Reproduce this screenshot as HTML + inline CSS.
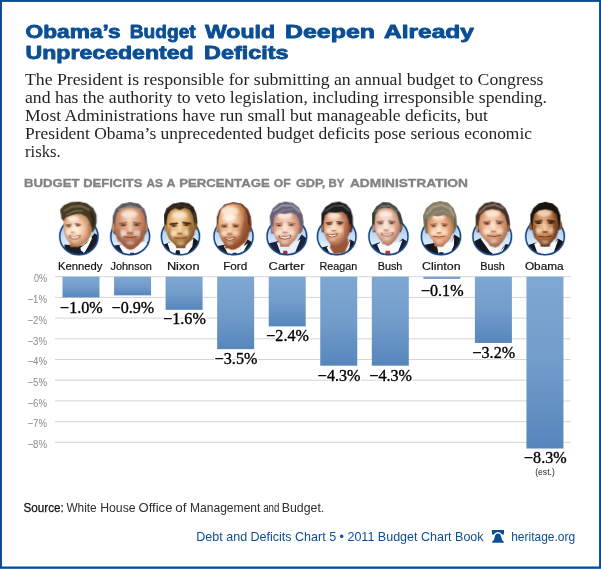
<!DOCTYPE html>
<html><head><meta charset="utf-8"><title>Obama's Budget Would Deepen Already Unprecedented Deficits</title>
<style>html,body{margin:0;padding:0;background:#fff;}body{width:601px;height:569px;overflow:hidden;}svg{display:block;will-change:transform;}.sans{font-family:"Liberation Sans",sans-serif;}.serif{font-family:"Liberation Serif",serif;}</style></head><body>
<svg width="601" height="569" viewBox="0 0 601 569">
<defs>
<linearGradient id="bar" x1="0" y1="0" x2="0" y2="1"><stop offset="0" stop-color="#7fa7d3"/><stop offset="0.5" stop-color="#729cca"/><stop offset="1" stop-color="#5686bc"/></linearGradient>
<linearGradient id="oval" x1="0" y1="0" x2="0" y2="1"><stop offset="0" stop-color="#93bfec"/><stop offset="0.55" stop-color="#c9e0f6"/><stop offset="1" stop-color="#ffffff"/></linearGradient>
<filter id="pb" x="-10%" y="-10%" width="120%" height="120%"><feGaussianBlur stdDeviation="4"/></filter>
<filter id="pb3" x="-30%" y="-30%" width="160%" height="160%"><feGaussianBlur stdDeviation="11"/></filter>
<filter id="pb2" x="-10%" y="-10%" width="120%" height="120%"><feGaussianBlur stdDeviation="2.2"/></filter>
<radialGradient id="sk0" cx="0.42" cy="0.45" r="0.6"><stop offset="0" stop-color="#fff0e0"/><stop offset="0.5" stop-color="#f2c29e"/><stop offset="1" stop-color="#b0704a"/></radialGradient>
<clipPath id="fc0"><polygon points="85,215 100,185 150,165 200,150 250,150 300,180 325,220 338,265 350,295 340,345 310,399 265,442 200,457 150,434 112,388 92,335 82,280"/></clipPath>
<clipPath id="oc0"><ellipse cx="226.5" cy="365" rx="181.0" ry="173"/></clipPath>
<radialGradient id="sk1" cx="0.48" cy="0.3" r="0.6"><stop offset="0" stop-color="#f7d6be"/><stop offset="0.5" stop-color="#d99a78"/><stop offset="1" stop-color="#9c5c42"/></radialGradient>
<clipPath id="fc1"><polygon points="96,215 108,150 152,102 240,86 328,102 368,150 382,215 385,260 382,330 356,397 318,445 272,483 240,491 212,484 172,451 118,386 90,320 88,260"/></clipPath>
<clipPath id="oc1"><ellipse cx="239.0" cy="365" rx="183.5" ry="173"/></clipPath>
<radialGradient id="sk2" cx="0.42" cy="0.38" r="0.6"><stop offset="0" stop-color="#fbdcae"/><stop offset="0.5" stop-color="#e0ae6e"/><stop offset="1" stop-color="#8a5a2a"/></radialGradient>
<clipPath id="fc2"><polygon points="92,215 102,160 128,120 170,98 215,114 262,94 308,110 338,160 352,230 362,290 350,350 316,404 275,445 241,464 206,464 171,445 128,402 98,350 85,300"/></clipPath>
<clipPath id="oc2"><ellipse cx="222.5" cy="365" rx="180.0" ry="173"/></clipPath>
<radialGradient id="sk3" cx="0.36" cy="0.34" r="0.6"><stop offset="0" stop-color="#fdead6"/><stop offset="0.5" stop-color="#eaae80"/><stop offset="1" stop-color="#94502c"/></radialGradient>
<clipPath id="fc3"><polygon points="85,230 95,160 120,105 165,68 230,52 300,64 345,110 362,170 368,240 385,295 372,365 333,423 282,468 238,490 203,488 166,461 121,401 90,325"/></clipPath>
<clipPath id="oc3"><ellipse cx="232.5" cy="365" rx="185.0" ry="173"/></clipPath>
<radialGradient id="sk4" cx="0.45" cy="0.42" r="0.6"><stop offset="0" stop-color="#fde2d4"/><stop offset="0.5" stop-color="#ecb69c"/><stop offset="1" stop-color="#b3765c"/></radialGradient>
<clipPath id="fc4"><polygon points="118,250 124,185 160,145 230,152 290,138 338,162 362,220 372,275 362,325 329,389 280,440 230,461 188,440 144,389 115,320"/></clipPath>
<clipPath id="oc4"><ellipse cx="245.0" cy="365" rx="187.5" ry="173"/></clipPath>
<radialGradient id="sk5" cx="0.4" cy="0.42" r="0.6"><stop offset="0" stop-color="#fde2cc"/><stop offset="0.5" stop-color="#e6aa88"/><stop offset="1" stop-color="#98553a"/></radialGradient>
<clipPath id="fc5"><polygon points="100,228 112,165 150,135 220,140 280,130 318,160 338,220 348,285 340,345 301,404 253,447 200,460 164,436 127,388 98,310"/></clipPath>
<clipPath id="oc5"><ellipse cx="225.0" cy="365" rx="182.5" ry="173"/></clipPath>
<radialGradient id="sk6" cx="0.42" cy="0.42" r="0.6"><stop offset="0" stop-color="#fde6d8"/><stop offset="0.5" stop-color="#ecbca4"/><stop offset="1" stop-color="#ac7860"/></radialGradient>
<clipPath id="fc6"><polygon points="92,235 98,160 128,112 180,90 250,100 300,140 324,220 336,270 328,330 291,394 252,436 214,454 177,436 137,388 102,330 90,300"/></clipPath>
<clipPath id="oc6"><ellipse cx="222.5" cy="365" rx="185.0" ry="173"/></clipPath>
<radialGradient id="sk7" cx="0.45" cy="0.45" r="0.6"><stop offset="0" stop-color="#fde0c4"/><stop offset="0.5" stop-color="#efb088"/><stop offset="1" stop-color="#b4704a"/></radialGradient>
<clipPath id="fc7"><polygon points="98,262 104,195 140,165 200,175 260,160 310,184 334,240 344,280 338,335 311,388 264,439 221,462 185,442 139,388 105,330"/></clipPath>
<clipPath id="oc7"><ellipse cx="227.5" cy="365" rx="185.0" ry="173"/></clipPath>
<radialGradient id="sk8" cx="0.45" cy="0.4" r="0.6"><stop offset="0" stop-color="#fde0c8"/><stop offset="0.5" stop-color="#e8ac86"/><stop offset="1" stop-color="#a4664a"/></radialGradient>
<clipPath id="fc8"><polygon points="92,235 106,165 150,120 220,104 290,118 336,162 358,232 370,285 358,345 321,409 280,455 247,468 211,452 158,403 110,340 88,290"/></clipPath>
<clipPath id="oc8"><ellipse cx="220.0" cy="365" rx="182.5" ry="173"/></clipPath>
<radialGradient id="sk9" cx="0.42" cy="0.42" r="0.6"><stop offset="0" stop-color="#f4c8a0"/><stop offset="0.5" stop-color="#c8844f"/><stop offset="1" stop-color="#6a371e"/></radialGradient>
<clipPath id="fc9"><polygon points="112,225 125,152 170,118 230,108 295,118 336,152 350,222 356,265 348,325 317,388 271,439 230,459 188,439 138,382 110,320"/></clipPath>
<clipPath id="oc9"><ellipse cx="228.0" cy="365" rx="182.5" ry="173"/></clipPath>
</defs>
<rect x="0" y="0" width="601" height="569" fill="#fff"/>
<rect x="0" y="0" width="601" height="1.9" fill="#0b4b93"/>
<rect x="0" y="0" width="1.95" height="569" fill="#0b4b93"/>
<rect x="599.05" y="0" width="1.95" height="569" fill="#0b4b93"/>
<rect x="0" y="566.5" width="601" height="2.5" fill="#0b4b93"/>
<rect x="0" y="568.2" width="601" height="0.8" fill="#3877b8"/>
<text x="25.6" y="38" class="sans" font-size="18.6" fill="#0b4e93" font-weight="bold" textLength="95.0" lengthAdjust="spacingAndGlyphs" stroke="#0b4e93" stroke-width="0.85" stroke-linejoin="round">Obama’s</text>
<text x="129.8" y="38" class="sans" font-size="18.6" fill="#0b4e93" font-weight="bold" textLength="65.9" lengthAdjust="spacingAndGlyphs" stroke="#0b4e93" stroke-width="0.85" stroke-linejoin="round">Budget</text>
<text x="205" y="38" class="sans" font-size="18.6" fill="#0b4e93" font-weight="bold" textLength="70" lengthAdjust="spacingAndGlyphs" stroke="#0b4e93" stroke-width="0.85" stroke-linejoin="round">Would</text>
<text x="285" y="38" class="sans" font-size="18.6" fill="#0b4e93" font-weight="bold" textLength="90" lengthAdjust="spacingAndGlyphs" stroke="#0b4e93" stroke-width="0.85" stroke-linejoin="round">Deepen</text>
<text x="384" y="38" class="sans" font-size="18.6" fill="#0b4e93" font-weight="bold" textLength="90" lengthAdjust="spacingAndGlyphs" stroke="#0b4e93" stroke-width="0.85" stroke-linejoin="round">Already</text>
<text x="25.6" y="58.75" class="sans" font-size="18.6" fill="#0b4e93" font-weight="bold" textLength="168.1" lengthAdjust="spacingAndGlyphs" stroke="#0b4e93" stroke-width="0.85" stroke-linejoin="round">Unprecedented</text>
<text x="204" y="58.75" class="sans" font-size="18.6" fill="#0b4e93" font-weight="bold" textLength="84.5" lengthAdjust="spacingAndGlyphs" stroke="#0b4e93" stroke-width="0.85" stroke-linejoin="round">Deficits</text>
<text x="25" y="85" class="serif" font-size="15.7" fill="#231f20" textLength="518.5" lengthAdjust="spacingAndGlyphs" >The President is responsible for submitting an annual budget to Congress</text>
<text x="25" y="103" class="serif" font-size="15.7" fill="#231f20" textLength="522" lengthAdjust="spacingAndGlyphs" >and has the authority to veto legislation, including irresponsible spending.</text>
<text x="25" y="121.25" class="serif" font-size="15.7" fill="#231f20" textLength="463" lengthAdjust="spacingAndGlyphs" >Most Administrations have run small but manageable deficits, but</text>
<text x="25" y="139" class="serif" font-size="15.7" fill="#231f20" textLength="507" lengthAdjust="spacingAndGlyphs" >President Obama’s unprecedented budget deficits pose serious economic</text>
<text x="25" y="157" class="serif" font-size="15.7" fill="#231f20" textLength="35.75" lengthAdjust="spacingAndGlyphs" >risks.</text>
<text x="24.1" y="186.75" class="sans" font-size="11.3" fill="#808285" font-weight="bold" textLength="55.5" lengthAdjust="spacingAndGlyphs" stroke="#808285" stroke-width="0.35">BUDGET</text>
<text x="83.2" y="186.75" class="sans" font-size="11.3" fill="#808285" font-weight="bold" textLength="59.2" lengthAdjust="spacingAndGlyphs" stroke="#808285" stroke-width="0.35">DEFICITS</text>
<text x="146.6" y="186.75" class="sans" font-size="11.3" fill="#808285" font-weight="bold" textLength="16.4" lengthAdjust="spacingAndGlyphs" stroke="#808285" stroke-width="0.35">AS</text>
<text x="166.6" y="186.75" class="sans" font-size="11.3" fill="#808285" font-weight="bold" textLength="9.0" lengthAdjust="spacingAndGlyphs" stroke="#808285" stroke-width="0.35">A</text>
<text x="179.2" y="186.75" class="sans" font-size="11.3" fill="#808285" font-weight="bold" textLength="90.5" lengthAdjust="spacingAndGlyphs" stroke="#808285" stroke-width="0.35">PERCENTAGE</text>
<text x="273.8" y="186.75" class="sans" font-size="11.3" fill="#808285" font-weight="bold" textLength="16.9" lengthAdjust="spacingAndGlyphs" stroke="#808285" stroke-width="0.35">OF</text>
<text x="296.0" y="186.75" class="sans" font-size="11.3" fill="#808285" font-weight="bold" textLength="29.4" lengthAdjust="spacingAndGlyphs" stroke="#808285" stroke-width="0.35">GDP,</text>
<text x="328.4" y="186.75" class="sans" font-size="11.3" fill="#808285" font-weight="bold" textLength="15.9" lengthAdjust="spacingAndGlyphs" stroke="#808285" stroke-width="0.35">BY</text>
<text x="349.9" y="186.75" class="sans" font-size="11.3" fill="#808285" font-weight="bold" textLength="118.0" lengthAdjust="spacingAndGlyphs" stroke="#808285" stroke-width="0.35">ADMINISTRATION</text>
<rect x="55" y="276.20" width="515.5" height="1" fill="#d4d5d6"/>
<text x="47" y="282.4" class="sans" font-size="10.6" fill="#898b8e" textLength="13" lengthAdjust="spacingAndGlyphs" text-anchor="end" >0%</text>
<rect x="55" y="296.90" width="515.5" height="1" fill="#d4d5d6"/>
<text x="47" y="303.1" class="sans" font-size="10.6" fill="#898b8e" textLength="19.5" lengthAdjust="spacingAndGlyphs" text-anchor="end" >−1%</text>
<rect x="55" y="317.60" width="515.5" height="1" fill="#d4d5d6"/>
<text x="47" y="323.8" class="sans" font-size="10.6" fill="#898b8e" textLength="19.5" lengthAdjust="spacingAndGlyphs" text-anchor="end" >−2%</text>
<rect x="55" y="338.30" width="515.5" height="1" fill="#d4d5d6"/>
<text x="47" y="344.5" class="sans" font-size="10.6" fill="#898b8e" textLength="19.5" lengthAdjust="spacingAndGlyphs" text-anchor="end" >−3%</text>
<rect x="55" y="359.00" width="515.5" height="1" fill="#d4d5d6"/>
<text x="47" y="365.2" class="sans" font-size="10.6" fill="#898b8e" textLength="19.5" lengthAdjust="spacingAndGlyphs" text-anchor="end" >−4%</text>
<rect x="55" y="379.70" width="515.5" height="1" fill="#d4d5d6"/>
<text x="47" y="385.9" class="sans" font-size="10.6" fill="#898b8e" textLength="19.5" lengthAdjust="spacingAndGlyphs" text-anchor="end" >−5%</text>
<rect x="55" y="400.40" width="515.5" height="1" fill="#d4d5d6"/>
<text x="47" y="406.6" class="sans" font-size="10.6" fill="#898b8e" textLength="19.5" lengthAdjust="spacingAndGlyphs" text-anchor="end" >−6%</text>
<rect x="55" y="421.10" width="515.5" height="1" fill="#d4d5d6"/>
<text x="47" y="427.3" class="sans" font-size="10.6" fill="#898b8e" textLength="19.5" lengthAdjust="spacingAndGlyphs" text-anchor="end" >−7%</text>
<rect x="55" y="441.80" width="515.5" height="1" fill="#d4d5d6"/>
<text x="47" y="448.0" class="sans" font-size="10.6" fill="#898b8e" textLength="19.5" lengthAdjust="spacingAndGlyphs" text-anchor="end" >−8%</text>
<rect x="62.50" y="276.70" width="37" height="20.70" fill="url(#bar)"/>
<text x="57.95" y="270" class="sans" font-size="11.7" fill="#111" textLength="44.4" lengthAdjust="spacingAndGlyphs" stroke="#111" stroke-width="0.2">Kennedy</text>
<text x="81.4" y="312.5" class="serif" font-size="16" fill="#fff" textLength="42.6" lengthAdjust="spacingAndGlyphs" text-anchor="middle" stroke="#fff" stroke-width="3" paint-order="stroke" stroke-linejoin="round">−1.0%</text>
<text x="81.4" y="312.5" class="serif" font-size="16" fill="#000" textLength="42.6" lengthAdjust="spacingAndGlyphs" text-anchor="middle" stroke="#000" stroke-width="0.35">−1.0%</text>
<rect x="114.05" y="276.70" width="37" height="18.63" fill="url(#bar)"/>
<text x="110.45" y="270" class="sans" font-size="11.7" fill="#111" textLength="41.4" lengthAdjust="spacingAndGlyphs" stroke="#111" stroke-width="0.2">Johnson</text>
<text x="132.95" y="312.5" class="serif" font-size="16" fill="#fff" textLength="42.6" lengthAdjust="spacingAndGlyphs" text-anchor="middle" stroke="#fff" stroke-width="3" paint-order="stroke" stroke-linejoin="round">−0.9%</text>
<text x="132.95" y="312.5" class="serif" font-size="16" fill="#000" textLength="42.6" lengthAdjust="spacingAndGlyphs" text-anchor="middle" stroke="#000" stroke-width="0.35">−0.9%</text>
<rect x="165.60" y="276.70" width="37" height="33.12" fill="url(#bar)"/>
<text x="166.9" y="270" class="sans" font-size="11.7" fill="#111" textLength="32.7" lengthAdjust="spacingAndGlyphs" stroke="#111" stroke-width="0.2">Nixon</text>
<text x="184.5" y="323.75" class="serif" font-size="16" fill="#fff" textLength="42.6" lengthAdjust="spacingAndGlyphs" text-anchor="middle" stroke="#fff" stroke-width="3" paint-order="stroke" stroke-linejoin="round">−1.6%</text>
<text x="184.5" y="323.75" class="serif" font-size="16" fill="#000" textLength="42.6" lengthAdjust="spacingAndGlyphs" text-anchor="middle" stroke="#000" stroke-width="0.35">−1.6%</text>
<rect x="217.15" y="276.70" width="37" height="72.45" fill="url(#bar)"/>
<text x="223.2" y="270" class="sans" font-size="11.7" fill="#111" textLength="24.1" lengthAdjust="spacingAndGlyphs" stroke="#111" stroke-width="0.2">Ford</text>
<text x="236.05" y="364.25" class="serif" font-size="16" fill="#fff" textLength="42.6" lengthAdjust="spacingAndGlyphs" text-anchor="middle" stroke="#fff" stroke-width="3" paint-order="stroke" stroke-linejoin="round">−3.5%</text>
<text x="236.05" y="364.25" class="serif" font-size="16" fill="#000" textLength="42.6" lengthAdjust="spacingAndGlyphs" text-anchor="middle" stroke="#000" stroke-width="0.35">−3.5%</text>
<rect x="268.70" y="276.70" width="37" height="49.68" fill="url(#bar)"/>
<text x="268.5" y="270" class="sans" font-size="11.7" fill="#111" textLength="36.1" lengthAdjust="spacingAndGlyphs" stroke="#111" stroke-width="0.2">Carter</text>
<text x="287.6" y="341.25" class="serif" font-size="16" fill="#fff" textLength="42.6" lengthAdjust="spacingAndGlyphs" text-anchor="middle" stroke="#fff" stroke-width="3" paint-order="stroke" stroke-linejoin="round">−2.4%</text>
<text x="287.6" y="341.25" class="serif" font-size="16" fill="#000" textLength="42.6" lengthAdjust="spacingAndGlyphs" text-anchor="middle" stroke="#000" stroke-width="0.35">−2.4%</text>
<rect x="320.25" y="276.70" width="37" height="89.01" fill="url(#bar)"/>
<text x="319.5" y="270" class="sans" font-size="11.7" fill="#111" textLength="37.7" lengthAdjust="spacingAndGlyphs" stroke="#111" stroke-width="0.2">Reagan</text>
<text x="339.15" y="380.5" class="serif" font-size="16" fill="#fff" textLength="42.6" lengthAdjust="spacingAndGlyphs" text-anchor="middle" stroke="#fff" stroke-width="3" paint-order="stroke" stroke-linejoin="round">−4.3%</text>
<text x="339.15" y="380.5" class="serif" font-size="16" fill="#000" textLength="42.6" lengthAdjust="spacingAndGlyphs" text-anchor="middle" stroke="#000" stroke-width="0.35">−4.3%</text>
<rect x="371.80" y="276.70" width="37" height="89.01" fill="url(#bar)"/>
<text x="377.7" y="270" class="sans" font-size="11.7" fill="#111" textLength="24.7" lengthAdjust="spacingAndGlyphs" stroke="#111" stroke-width="0.2">Bush</text>
<text x="390.7" y="380.5" class="serif" font-size="16" fill="#fff" textLength="42.6" lengthAdjust="spacingAndGlyphs" text-anchor="middle" stroke="#fff" stroke-width="3" paint-order="stroke" stroke-linejoin="round">−4.3%</text>
<text x="390.7" y="380.5" class="serif" font-size="16" fill="#000" textLength="42.6" lengthAdjust="spacingAndGlyphs" text-anchor="middle" stroke="#000" stroke-width="0.35">−4.3%</text>
<rect x="423.35" y="276.70" width="37" height="2.07" fill="url(#bar)"/>
<text x="422.0" y="270" class="sans" font-size="11.7" fill="#111" textLength="38.6" lengthAdjust="spacingAndGlyphs" stroke="#111" stroke-width="0.2">Clinton</text>
<text x="442.25" y="295.6" class="serif" font-size="16" fill="#fff" textLength="42.6" lengthAdjust="spacingAndGlyphs" text-anchor="middle" stroke="#fff" stroke-width="3" paint-order="stroke" stroke-linejoin="round">−0.1%</text>
<text x="442.25" y="295.6" class="serif" font-size="16" fill="#000" textLength="42.6" lengthAdjust="spacingAndGlyphs" text-anchor="middle" stroke="#000" stroke-width="0.35">−0.1%</text>
<rect x="474.90" y="276.70" width="37" height="66.24" fill="url(#bar)"/>
<text x="480.2" y="270" class="sans" font-size="11.7" fill="#111" textLength="24.7" lengthAdjust="spacingAndGlyphs" stroke="#111" stroke-width="0.2">Bush</text>
<text x="493.8" y="358" class="serif" font-size="16" fill="#fff" textLength="42.6" lengthAdjust="spacingAndGlyphs" text-anchor="middle" stroke="#fff" stroke-width="3" paint-order="stroke" stroke-linejoin="round">−3.2%</text>
<text x="493.8" y="358" class="serif" font-size="16" fill="#000" textLength="42.6" lengthAdjust="spacingAndGlyphs" text-anchor="middle" stroke="#000" stroke-width="0.35">−3.2%</text>
<rect x="526.45" y="276.70" width="37" height="171.81" fill="url(#bar)"/>
<text x="524.9" y="270" class="sans" font-size="11.7" fill="#111" textLength="38.7" lengthAdjust="spacingAndGlyphs" stroke="#111" stroke-width="0.2">Obama</text>
<text x="545.35" y="463.3" class="serif" font-size="16" fill="#fff" textLength="42.6" lengthAdjust="spacingAndGlyphs" text-anchor="middle" stroke="#fff" stroke-width="3" paint-order="stroke" stroke-linejoin="round">−8.3%</text>
<text x="545.35" y="463.3" class="serif" font-size="16" fill="#000" textLength="42.6" lengthAdjust="spacingAndGlyphs" text-anchor="middle" stroke="#000" stroke-width="0.35">−8.3%</text>
<text x="545" y="474.8" class="sans" font-size="9" fill="#222" textLength="19.5" lengthAdjust="spacingAndGlyphs" text-anchor="middle" >(est.)</text>
<text x="23.6" y="511.7" class="sans" font-size="12.8" fill="#111" textLength="40.2" lengthAdjust="spacingAndGlyphs" stroke="#111" stroke-width="0.25">Source:</text>
<text x="66.4" y="511.7" class="sans" font-size="12.8" fill="#2e2e2e" textLength="30.3" lengthAdjust="spacingAndGlyphs" >White</text>
<text x="100.2" y="511.7" class="sans" font-size="12.8" fill="#2e2e2e" textLength="35.4" lengthAdjust="spacingAndGlyphs" >House</text>
<text x="138.6" y="511.7" class="sans" font-size="12.8" fill="#2e2e2e" textLength="33.8" lengthAdjust="spacingAndGlyphs" >Office</text>
<text x="175.2" y="511.7" class="sans" font-size="12.8" fill="#2e2e2e" textLength="11.2" lengthAdjust="spacingAndGlyphs" >of</text>
<text x="190.0" y="511.7" class="sans" font-size="12.8" fill="#2e2e2e" textLength="70.4" lengthAdjust="spacingAndGlyphs" >Management</text>
<text x="263.2" y="511.7" class="sans" font-size="12.8" fill="#2e2e2e" textLength="16.2" lengthAdjust="spacingAndGlyphs" >and</text>
<text x="281.8" y="511.7" class="sans" font-size="12.8" fill="#2e2e2e" textLength="42.5" lengthAdjust="spacingAndGlyphs" >Budget.</text>
<text x="196.3" y="541" class="sans" font-size="13.3" fill="#0b4e93" textLength="287.3" lengthAdjust="spacingAndGlyphs" >Debt and Deficits Chart 5 • 2011 Budget Chart Book</text>
<text x="511.2" y="541" class="sans" font-size="13.3" fill="#0b4e93" textLength="64" lengthAdjust="spacingAndGlyphs" >heritage.org</text>
<path d="M491.9,530 H504 V532.7 L503.4,534.9 L501.9,534.2 Q498,529.9 494,534.2 L492.5,534.9 L491.9,532.7 Z" fill="#0b4e93"/>
<path d="M498,533.5 C495.7,533.5 494.9,535.2 494.6,537.5 C494.3,540 493.3,540.8 492.2,541.4 V542.7 H503.8 V541.4 C502.7,540.8 501.7,540 501.4,537.5 C501.1,535.2 500.3,533.5 498,533.5 Z" fill="#0b4e93"/>
<g transform="translate(55,198) scale(0.10549)">
<ellipse cx="226" cy="365" rx="181" ry="173" fill="url(#oval)" />
<g clip-path="url(#oc0)"><g filter="url(#pb2)">
<polygon points="90,440 200,452 270,450 335,385 375,335 430,370 430,560 90,560" fill="#1b1b22" />
<polygon points="240,472 300,428 338,365 352,378 318,452 282,515 252,525" fill="#fbfbfd" />
<polygon points="232,490 268,512 262,560 222,560" fill="#1d2338" />
</g></g>
<ellipse cx="226.5" cy="365" rx="190.0" ry="182" fill="none" stroke="#a9cbee" stroke-width="9" opacity="0.75" filter="url(#pb2)"/>
<ellipse cx="226.5" cy="365" rx="181.0" ry="173" fill="none" stroke="#1a4782" stroke-width="14"/>
<g filter="url(#pb)">
<g clip-path="url(#oc0)"><polygon points="133,398 243,398 230,463 146,463" fill="#b0704a" /></g>
<polygon points="60,150 55,110 90,70 150,45 230,40 300,55 360,100 388,160 390,230 375,285 355,320 335,300 300,180 200,150 100,185 85,215 65,190" fill="#423a25" stroke="#423a25" stroke-width="10" stroke-linejoin="round"/>
<polygon points="85,215 100,185 150,165 200,150 250,150 300,180 325,220 338,265 350,295 340,345 310,399 265,442 200,457 150,434 112,388 92,335 82,280" fill="url(#sk0)" stroke="#b0704a" stroke-width="6" stroke-linejoin="round" stroke-opacity="0.45"/>
<g filter="url(#pb3)" clip-path="url(#fc0)">
<ellipse cx="169" cy="195" rx="54" ry="26" fill="#fff8f1" opacity="0.8"/>
<ellipse cx="128" cy="322" rx="26" ry="21" fill="#fff8f1" opacity="0.72"/>
<ellipse cx="219" cy="316" rx="24" ry="21" fill="#fff8f1" opacity="0.60"/>
<ellipse cx="165" cy="301" rx="9" ry="26" fill="#fff8f1" opacity="0.72"/>
<ellipse cx="188" cy="405" rx="26" ry="10" fill="#fff8f1" opacity="0.56"/>
</g>
<polyline points="90,120 160,80 250,75 320,110" fill="none" stroke="#7b6846" stroke-width="22" stroke-linecap="round" stroke-linejoin="round" opacity="0.8"/>
<polyline points="110,160 180,125 260,120" fill="none" stroke="#8a7650" stroke-width="14" stroke-linecap="round" stroke-linejoin="round" opacity="0.7"/>
<polyline points="340,140 365,200 362,260" fill="none" stroke="#2a2216" stroke-width="24" stroke-linecap="round" stroke-linejoin="round" opacity="0.8"/>
<ellipse cx="326" cy="290" rx="16" ry="60" fill="#a8683f" opacity="0.35"/>
<ellipse cx="130" cy="265" rx="26" ry="11" fill="#b0704a" opacity="0.75"/>
<ellipse cx="217" cy="259" rx="26" ry="11" fill="#b0704a" opacity="0.75"/>
<polyline points="103.9,256.69 154.36,250.6" fill="none" stroke="#4a3020" stroke-width="8" stroke-linecap="round" stroke-linejoin="round" />
<polyline points="192.64,244.6 243.1,251.56" fill="none" stroke="#4a3020" stroke-width="8" stroke-linecap="round" stroke-linejoin="round" />
<ellipse cx="130" cy="268" rx="13" ry="5" fill="#35241a" />
<ellipse cx="217" cy="262" rx="13" ry="5" fill="#35241a" />
<ellipse cx="165" cy="325" rx="21" ry="7" fill="#b0704a" opacity="0.75"/>
<polygon points="130,353.3 188,364.85 246,349.1 234.4,380.6 188,395.3 144.5,382.7" fill="#904631" />
<polygon points="144.5,360.65 188,371.15 234.4,357.5 225.7,375.35 188,386.9 153.2,376.4" fill="#fffaf4" />
</g>
</g>
<g transform="translate(105,198) scale(0.10549)">
<ellipse cx="239" cy="365" rx="184" ry="173" fill="url(#oval)" />
<g clip-path="url(#oc1)"><g filter="url(#pb2)">
<polygon points="85,450 160,440 225,560 85,560" fill="#1c2233" />
<polygon points="395,425 420,400 445,450 445,560 325,560" fill="#1c2233" />
<polygon points="135,452 165,436 360,412 412,432 335,548 188,548" fill="#fbfbfd" />
<polygon points="240,520 274,520 287,560 227,560" fill="#1a1f30" />
</g></g>
<ellipse cx="239.0" cy="365" rx="192.5" ry="182" fill="none" stroke="#a9cbee" stroke-width="9" opacity="0.75" filter="url(#pb2)"/>
<ellipse cx="239.0" cy="365" rx="183.5" ry="173" fill="none" stroke="#1a4782" stroke-width="14"/>
<g filter="url(#pb)">
<g clip-path="url(#oc1)"><polygon points="185,402 295,402 282,467 198,467" fill="#9c5c42" /></g>
<polygon points="75,250 80,170 105,105 160,60 240,45 320,60 370,110 390,180 395,250 398,300 380,340 90,340 68,300" fill="#5a5a5c" stroke="#5a5a5c" stroke-width="10" stroke-linejoin="round"/>
<polygon points="96,215 108,150 152,102 240,86 328,102 368,150 382,215 385,260 382,330 356,397 318,445 272,483 240,491 212,484 172,451 118,386 90,320 88,260" fill="url(#sk1)" stroke="#9c5c42" stroke-width="6" stroke-linejoin="round" stroke-opacity="0.45"/>
<g filter="url(#pb3)" clip-path="url(#fc1)">
<ellipse cx="230" cy="154" rx="79" ry="38" fill="#fbede2" opacity="0.8"/>
<ellipse cx="169" cy="336" rx="38" ry="31" fill="#fbede2" opacity="0.72"/>
<ellipse cx="303" cy="334" rx="36" ry="31" fill="#fbede2" opacity="0.60"/>
<ellipse cx="238" cy="297" rx="13" ry="38" fill="#fbede2" opacity="0.72"/>
<ellipse cx="240" cy="426" rx="38" ry="15" fill="#fbede2" opacity="0.56"/>
</g>
<polyline points="130,110 240,72 350,110" fill="none" stroke="#9c9c9e" stroke-width="16" stroke-linecap="round" stroke-linejoin="round" opacity="0.6"/>
<ellipse cx="78" cy="285" rx="12" ry="38" fill="#c08866" />
<ellipse cx="393" cy="280" rx="12" ry="38" fill="#b57a58" />
<ellipse cx="130" cy="360" rx="20" ry="60" fill="#9c5c42" opacity="0.5"/>
<ellipse cx="355" cy="360" rx="20" ry="60" fill="#9c5c42" opacity="0.55"/>
<ellipse cx="172" cy="253" rx="38" ry="17" fill="#9c5c42" opacity="0.75"/>
<ellipse cx="300" cy="251" rx="38" ry="17" fill="#9c5c42" opacity="0.75"/>
<polyline points="133.6,240.36 207.84,231.4" fill="none" stroke="#6a5446" stroke-width="8" stroke-linecap="round" stroke-linejoin="round" />
<polyline points="264.15999999999997,229.4 338.4,239.64" fill="none" stroke="#6a5446" stroke-width="8" stroke-linecap="round" stroke-linejoin="round" />
<ellipse cx="172" cy="257" rx="19" ry="7" fill="#3c2a22" />
<ellipse cx="300" cy="255" rx="19" ry="7" fill="#3c2a22" />
<ellipse cx="238" cy="333" rx="31" ry="10" fill="#9c5c42" opacity="0.75"/>
<polyline points="180,369 240,376 300,367" fill="none" stroke="#743829" stroke-width="9" stroke-linecap="round" stroke-linejoin="round" />
<ellipse cx="240" cy="388" rx="36" ry="6" fill="#d08064" opacity="0.6"/>
</g>
</g>
<g transform="translate(157,198) scale(0.10549)">
<ellipse cx="222" cy="365" rx="180" ry="173" fill="url(#oval)" />
<g clip-path="url(#oc2)"><g filter="url(#pb2)">
<polygon points="40,450 120,420 200,560 40,560" fill="#18181c" />
<polygon points="300,430 345,375 420,430 420,560 215,560" fill="#18181c" />
<polygon points="100,430 150,415 300,420 345,385 335,460 270,548 140,548" fill="#fbfbfd" />
<polygon points="180,495 214,495 225,560 168,560" fill="#15161c" />
</g></g>
<ellipse cx="222.5" cy="365" rx="189.0" ry="182" fill="none" stroke="#a9cbee" stroke-width="9" opacity="0.75" filter="url(#pb2)"/>
<ellipse cx="222.5" cy="365" rx="180.0" ry="173" fill="none" stroke="#1a4782" stroke-width="14"/>
<g filter="url(#pb)">
<g clip-path="url(#oc2)"><polygon points="170,410 280,410 267,475 183,475" fill="#8a5a2a" /></g>
<polygon points="75,250 72,160 95,100 150,60 230,45 300,55 342,90 368,150 378,230 372,290 80,300" fill="#2a2019" stroke="#2a2019" stroke-width="10" stroke-linejoin="round"/>
<polygon points="92,215 102,160 128,120 170,98 215,114 262,94 308,110 338,160 352,230 362,290 350,350 316,404 275,445 241,464 206,464 171,445 128,402 98,350 85,300" fill="url(#sk2)" stroke="#8a5a2a" stroke-width="6" stroke-linejoin="round" stroke-opacity="0.45"/>
<g filter="url(#pb3)" clip-path="url(#fc2)">
<ellipse cx="214" cy="163" rx="74" ry="36" fill="#fdefdb" opacity="0.8"/>
<ellipse cx="158" cy="336" rx="36" ry="29" fill="#fdefdb" opacity="0.72"/>
<ellipse cx="282" cy="330" rx="34" ry="29" fill="#fdefdb" opacity="0.60"/>
<ellipse cx="215" cy="304" rx="12" ry="36" fill="#fdefdb" opacity="0.72"/>
<ellipse cx="225" cy="430" rx="36" ry="14" fill="#fdefdb" opacity="0.56"/>
</g>
<polyline points="120,100 220,68 310,90" fill="none" stroke="#5a4a3a" stroke-width="12" stroke-linecap="round" stroke-linejoin="round" opacity="0.6"/>
<polyline points="350,140 368,210 366,270" fill="none" stroke="#6a6258" stroke-width="12" stroke-linecap="round" stroke-linejoin="round" opacity="0.6"/>
<ellipse cx="80" cy="285" rx="10" ry="36" fill="#b88248" />
<ellipse cx="368" cy="272" rx="10" ry="36" fill="#9a6a38" />
<ellipse cx="320" cy="320" rx="22" ry="85" fill="#8a5a2a" opacity="0.5"/>
<ellipse cx="120" cy="340" rx="14" ry="60" fill="#8a5a2a" opacity="0.35"/>
<ellipse cx="160" cy="258" rx="36" ry="16" fill="#8a5a2a" opacity="0.75"/>
<ellipse cx="280" cy="252" rx="36" ry="16" fill="#8a5a2a" opacity="0.75"/>
<polyline points="124.0,246.4 193.6,238.0" fill="none" stroke="#2a1c12" stroke-width="13" stroke-linecap="round" stroke-linejoin="round" />
<polyline points="246.4,232.0 316.0,241.6" fill="none" stroke="#2a1c12" stroke-width="13" stroke-linecap="round" stroke-linejoin="round" />
<ellipse cx="160" cy="262" rx="18" ry="7" fill="#2c1c10" />
<ellipse cx="280" cy="256" rx="18" ry="7" fill="#2c1c10" />
<ellipse cx="215" cy="337" rx="29" ry="9" fill="#8a5a2a" opacity="0.75"/>
<polyline points="167,377 225,384 283,375" fill="none" stroke="#6d371f" stroke-width="9" stroke-linecap="round" stroke-linejoin="round" />
<ellipse cx="225" cy="396" rx="35" ry="6" fill="#d58d5e" opacity="0.6"/>
</g>
</g>
<g transform="translate(209,198) scale(0.10549)">
<ellipse cx="232" cy="365" rx="185" ry="173" fill="url(#oval)" />
<g clip-path="url(#oc3)"><g filter="url(#pb2)">
<polygon points="80,455 160,440 230,560 80,560" fill="#1e1e22" />
<polygon points="330,460 365,390 440,440 440,560 250,560" fill="#1e1e22" />
<polygon points="140,455 165,445 335,455 370,430 305,548 190,548" fill="#fbfbfd" />
<polygon points="225,520 262,520 272,560 215,560" fill="#23252e" />
</g></g>
<ellipse cx="232.5" cy="365" rx="194.0" ry="182" fill="none" stroke="#a9cbee" stroke-width="9" opacity="0.75" filter="url(#pb2)"/>
<ellipse cx="232.5" cy="365" rx="185.0" ry="173" fill="none" stroke="#1a4782" stroke-width="14"/>
<g filter="url(#pb)">
<g clip-path="url(#oc3)"><polygon points="142,413 252,413 239,478 155,478" fill="#94502c" /></g>
<polygon points="78,250 80,180 100,120 150,65 230,45 310,60 365,110 392,180 398,260 385,320 80,320" fill="#5e3422" stroke="#5e3422" stroke-width="10" stroke-linejoin="round"/>
<polygon points="85,230 95,160 120,105 165,68 230,52 300,64 345,110 362,170 368,240 385,295 372,365 333,423 282,468 238,490 203,488 166,461 121,401 90,325" fill="url(#sk3)" stroke="#94502c" stroke-width="6" stroke-linejoin="round" stroke-opacity="0.45"/>
<g filter="url(#pb3)" clip-path="url(#fc3)">
<ellipse cx="194" cy="184" rx="66" ry="32" fill="#fef6ed" opacity="0.8"/>
<ellipse cx="144" cy="336" rx="32" ry="25" fill="#fef6ed" opacity="0.72"/>
<ellipse cx="254" cy="334" rx="30" ry="25" fill="#fef6ed" opacity="0.60"/>
<ellipse cx="195" cy="312" rx="11" ry="32" fill="#fef6ed" opacity="0.72"/>
<ellipse cx="197" cy="428" rx="32" ry="13" fill="#fef6ed" opacity="0.56"/>
</g>
<ellipse cx="82" cy="285" rx="10" ry="36" fill="#c48a64" />
<ellipse cx="385" cy="285" rx="10" ry="34" fill="#8e4826" />
<ellipse cx="195" cy="125" rx="85" ry="45" fill="#fdeedd" opacity="0.8" filter="url(#pb3)"/>
<ellipse cx="338" cy="330" rx="28" ry="110" fill="#94502c" opacity="0.5"/>
<ellipse cx="348" cy="200" rx="20" ry="80" fill="#94502c" opacity="0.4"/>
<ellipse cx="146" cy="267" rx="32" ry="14" fill="#94502c" opacity="0.75"/>
<ellipse cx="252" cy="265" rx="32" ry="14" fill="#94502c" opacity="0.75"/>
<polyline points="114.2,256.22 175.68,248.8" fill="none" stroke="#8a6248" stroke-width="8" stroke-linecap="round" stroke-linejoin="round" />
<polyline points="222.32,246.8 283.8,255.28" fill="none" stroke="#8a6248" stroke-width="8" stroke-linecap="round" stroke-linejoin="round" />
<ellipse cx="146" cy="270" rx="16" ry="6" fill="#3e2a20" />
<ellipse cx="252" cy="268" rx="16" ry="6" fill="#3e2a20" />
<ellipse cx="195" cy="341" rx="25" ry="8" fill="#94502c" opacity="0.75"/>
<polygon points="145,372.5 197,380.75 249,369.5 238.6,392.0 197,402.5 158.0,393.5" fill="#843925" />
<polygon points="158.0,377.75 197,385.25 238.6,375.5 230.8,388.25 197,396.5 165.8,389.0" fill="#fffaf4" />
</g>
</g>
<g transform="translate(261,198) scale(0.10549)">
<ellipse cx="245" cy="365" rx="188" ry="173" fill="url(#oval)" />
<g clip-path="url(#oc4)"><g filter="url(#pb2)">
<polygon points="75,430 175,405 240,560 75,560" fill="#1a2240" />
<polygon points="340,420 385,345 455,400 455,560 250,560" fill="#1a2240" />
<polygon points="150,425 178,410 340,410 375,390 310,548 195,548" fill="#e9eef8" />
<polygon points="212,500 248,500 258,560 202,560" fill="#a33030" />
</g></g>
<ellipse cx="245.0" cy="365" rx="196.5" ry="182" fill="none" stroke="#a9cbee" stroke-width="9" opacity="0.75" filter="url(#pb2)"/>
<ellipse cx="245.0" cy="365" rx="187.5" ry="173" fill="none" stroke="#1a4782" stroke-width="14"/>
<g filter="url(#pb)">
<g clip-path="url(#oc4)"><polygon points="170,397 280,397 267,462 183,462" fill="#b3765c" /></g>
<polygon points="95,260 88,170 115,100 170,55 230,40 300,50 352,90 388,160 398,230 390,295 372,330 100,330" fill="#676178" stroke="#676178" stroke-width="10" stroke-linejoin="round"/>
<polygon points="118,250 124,185 160,145 230,152 290,138 338,162 362,220 372,275 362,325 329,389 280,440 230,461 188,440 144,389 115,320" fill="url(#sk4)" stroke="#b3765c" stroke-width="6" stroke-linejoin="round" stroke-opacity="0.45"/>
<g filter="url(#pb3)" clip-path="url(#fc4)">
<ellipse cx="223" cy="165" rx="73" ry="35" fill="#fef2ec" opacity="0.8"/>
<ellipse cx="168" cy="334" rx="35" ry="28" fill="#fef2ec" opacity="0.72"/>
<ellipse cx="290" cy="330" rx="33" ry="28" fill="#fef2ec" opacity="0.60"/>
<ellipse cx="228" cy="294" rx="12" ry="35" fill="#fef2ec" opacity="0.72"/>
<ellipse cx="225" cy="417" rx="35" ry="14" fill="#fef2ec" opacity="0.56"/>
</g>
<polyline points="120,120 200,70 300,72 365,130" fill="none" stroke="#a7a2b6" stroke-width="20" stroke-linecap="round" stroke-linejoin="round" opacity="0.75"/>
<polyline points="130,170 210,115 300,105" fill="none" stroke="#8d88a0" stroke-width="16" stroke-linecap="round" stroke-linejoin="round" opacity="0.7"/>
<ellipse cx="108" cy="295" rx="10" ry="34" fill="#c98e74" />
<ellipse cx="378" cy="290" rx="10" ry="34" fill="#a86a52" />
<ellipse cx="170" cy="257" rx="35" ry="15" fill="#b3765c" opacity="0.75"/>
<ellipse cx="288" cy="253" rx="35" ry="15" fill="#b3765c" opacity="0.75"/>
<polyline points="134.6,245.66 203.04000000000002,237.4" fill="none" stroke="#7a6458" stroke-width="8" stroke-linecap="round" stroke-linejoin="round" />
<polyline points="254.95999999999998,233.4 323.4,242.84" fill="none" stroke="#7a6458" stroke-width="8" stroke-linecap="round" stroke-linejoin="round" />
<ellipse cx="170" cy="261" rx="18" ry="6" fill="#3a2a26" />
<ellipse cx="288" cy="257" rx="18" ry="6" fill="#3a2a26" />
<ellipse cx="228" cy="327" rx="28" ry="9" fill="#b3765c" opacity="0.75"/>
<polygon points="161,353.0 225,364.0 289,349.0 276.2,379.0 225,393.0 177.0,381.0" fill="#914838" />
<polygon points="177.0,360.0 225,370.0 276.2,357.0 266.6,374.0 225,385.0 186.6,375.0" fill="#fffaf4" />
</g>
</g>
<g transform="translate(313,198) scale(0.10549)">
<ellipse cx="225" cy="365" rx="182" ry="173" fill="url(#oval)" />
<g clip-path="url(#oc5)"><g filter="url(#pb2)">
<polygon points="80,470 140,455 200,560 80,560" fill="#1a1d28" />
<polygon points="330,440 350,390 420,430 420,560 240,560" fill="#1a1d28" />
<polygon points="130,470 150,455 330,440 355,400 345,470 300,548 170,548" fill="#fbfbfd" />
<polygon points="205,530 240,530 250,560 195,560" fill="#2a2030" />
</g></g>
<ellipse cx="225.0" cy="365" rx="191.5" ry="182" fill="none" stroke="#a9cbee" stroke-width="9" opacity="0.75" filter="url(#pb2)"/>
<ellipse cx="225.0" cy="365" rx="182.5" ry="173" fill="none" stroke="#1a4782" stroke-width="14"/>
<g filter="url(#pb)">
<g clip-path="url(#oc5)"><polygon points="170,400 330,380 335,440 300,520 200,530 160,470" fill="#98553a" /></g>
<polygon points="85,240 85,150 120,90 180,50 250,40 310,60 352,110 372,180 374,260 360,320 90,320" fill="#1f1b1d" stroke="#1f1b1d" stroke-width="10" stroke-linejoin="round"/>
<polygon points="100,228 112,165 150,135 220,140 280,130 318,160 338,220 348,285 340,345 301,404 253,447 200,460 164,436 127,388 98,310" fill="url(#sk5)" stroke="#98553a" stroke-width="6" stroke-linejoin="round" stroke-opacity="0.45"/>
<g filter="url(#pb3)" clip-path="url(#fc5)">
<ellipse cx="199" cy="168" rx="61" ry="30" fill="#fef2e8" opacity="0.8"/>
<ellipse cx="152" cy="310" rx="30" ry="24" fill="#fef2e8" opacity="0.72"/>
<ellipse cx="255" cy="306" rx="28" ry="24" fill="#fef2e8" opacity="0.60"/>
<ellipse cx="195" cy="283" rx="10" ry="30" fill="#fef2e8" opacity="0.72"/>
<ellipse cx="182" cy="392" rx="30" ry="12" fill="#fef2e8" opacity="0.56"/>
</g>
<polyline points="120,120 190,75 280,70 340,120" fill="none" stroke="#5e5e6c" stroke-width="16" stroke-linecap="round" stroke-linejoin="round" opacity="0.7"/>
<ellipse cx="90" cy="280" rx="9" ry="32" fill="#b07050" />
<ellipse cx="352" cy="280" rx="10" ry="34" fill="#8a4a30" />
<ellipse cx="318" cy="310" rx="22" ry="90" fill="#98553a" opacity="0.4"/>
<ellipse cx="154" cy="246" rx="30" ry="13" fill="#98553a" opacity="0.75"/>
<ellipse cx="253" cy="242" rx="30" ry="13" fill="#98553a" opacity="0.75"/>
<polyline points="124.3,236.13 181.72,229.2" fill="none" stroke="#3a2218" stroke-width="10" stroke-linecap="round" stroke-linejoin="round" />
<polyline points="225.28,225.2 282.7,233.12" fill="none" stroke="#3a2218" stroke-width="10" stroke-linecap="round" stroke-linejoin="round" />
<ellipse cx="154" cy="249" rx="15" ry="5" fill="#2c1a14" />
<ellipse cx="253" cy="245" rx="15" ry="5" fill="#2c1a14" />
<ellipse cx="195" cy="311" rx="24" ry="7" fill="#98553a" opacity="0.75"/>
<polygon points="128,336.7 182,347.15 236,332.9 225.2,361.4 182,374.7 141.5,363.3" fill="#863b2a" />
<polygon points="141.5,343.35 182,352.85 225.2,340.5 217.1,356.65 182,367.1 149.6,357.6" fill="#fffaf4" />
</g>
</g>
<g transform="translate(365,198) scale(0.10549)">
<ellipse cx="222" cy="365" rx="185" ry="173" fill="url(#oval)" />
<g clip-path="url(#oc6)"><g filter="url(#pb2)">
<polygon points="25,460 140,420 215,560 25,560" fill="#16203a" />
<polygon points="315,430 355,385 430,430 430,560 230,560" fill="#16203a" />
<polygon points="115,440 145,425 320,420 355,400 300,548 160,548" fill="#fbfbfd" />
<polygon points="196,500 236,500 246,560 186,560" fill="#b23a2e" />
</g></g>
<ellipse cx="222.5" cy="365" rx="194.0" ry="182" fill="none" stroke="#a9cbee" stroke-width="9" opacity="0.75" filter="url(#pb2)"/>
<ellipse cx="222.5" cy="365" rx="185.0" ry="173" fill="none" stroke="#1a4782" stroke-width="14"/>
<g filter="url(#pb)">
<g clip-path="url(#oc6)"><polygon points="154,372 264,372 251,437 167,437" fill="#ac7860" /></g>
<polygon points="72,245 72,150 110,85 170,45 232,50 292,90 332,150 352,220 350,280 335,320 80,320" fill="#393e39" stroke="#393e39" stroke-width="10" stroke-linejoin="round"/>
<polygon points="92,235 98,160 128,112 180,90 250,100 300,140 324,220 336,270 328,330 291,394 252,436 214,454 177,436 137,388 102,330 90,300" fill="url(#sk6)" stroke="#ac7860" stroke-width="6" stroke-linejoin="round" stroke-opacity="0.45"/>
<g filter="url(#pb3)" clip-path="url(#fc6)">
<ellipse cx="194" cy="154" rx="66" ry="32" fill="#fef4ed" opacity="0.8"/>
<ellipse cx="144" cy="307" rx="32" ry="26" fill="#fef4ed" opacity="0.72"/>
<ellipse cx="255" cy="304" rx="30" ry="26" fill="#fef4ed" opacity="0.60"/>
<ellipse cx="200" cy="276" rx="11" ry="32" fill="#fef4ed" opacity="0.72"/>
<ellipse cx="209" cy="387" rx="32" ry="13" fill="#fef4ed" opacity="0.56"/>
</g>
<polyline points="100,130 160,75 230,72 300,125" fill="none" stroke="#828a7e" stroke-width="16" stroke-linecap="round" stroke-linejoin="round" opacity="0.7"/>
<ellipse cx="82" cy="285" rx="10" ry="34" fill="#c99680" />
<ellipse cx="340" cy="280" rx="10" ry="34" fill="#a06c56" />
<ellipse cx="146" cy="238" rx="32" ry="14" fill="#ac7860" opacity="0.75"/>
<ellipse cx="253" cy="235" rx="32" ry="14" fill="#ac7860" opacity="0.75"/>
<polyline points="113.9,227.09 175.96,219.6" fill="none" stroke="#5a4a40" stroke-width="8" stroke-linecap="round" stroke-linejoin="round" />
<polyline points="223.04,216.6 285.1,225.16" fill="none" stroke="#5a4a40" stroke-width="8" stroke-linecap="round" stroke-linejoin="round" />
<ellipse cx="146" cy="241" rx="16" ry="6" fill="#33262a" />
<ellipse cx="253" cy="238" rx="16" ry="6" fill="#33262a" />
<ellipse cx="200" cy="306" rx="26" ry="8" fill="#ac7860" opacity="0.75"/>
<polygon points="147,330.1 209,339.45 271,326.7 258.6,352.2 209,364.1 162.5,353.9" fill="#8e493a" />
<polygon points="162.5,336.05 209,344.55 258.6,333.5 249.3,347.95 209,357.3 171.8,348.8" fill="#fffaf4" />
</g>
</g>
<g transform="translate(417,198) scale(0.10549)">
<ellipse cx="228" cy="365" rx="185" ry="173" fill="url(#oval)" />
<g clip-path="url(#oc7)"><g filter="url(#pb2)">
<polygon points="40,450 200,420 245,560 40,560" fill="#15171e" />
<polygon points="335,410 352,345 435,395 435,560 255,560" fill="#15171e" />
<polygon points="185,445 210,430 330,420 352,370 350,450 305,548 210,548" fill="#fbfbfd" />
<polygon points="212,515 250,515 260,560 202,560" fill="#1a1c26" />
</g></g>
<ellipse cx="227.5" cy="365" rx="194.0" ry="182" fill="none" stroke="#a9cbee" stroke-width="9" opacity="0.75" filter="url(#pb2)"/>
<ellipse cx="227.5" cy="365" rx="185.0" ry="173" fill="none" stroke="#1a4782" stroke-width="14"/>
<g filter="url(#pb)">
<g clip-path="url(#oc7)"><polygon points="154,397 264,397 251,462 167,462" fill="#b4704a" /></g>
<polygon points="70,270 62,170 90,100 150,50 220,35 292,50 342,100 368,170 374,250 362,300 345,330 85,330" fill="#867c66" stroke="#867c66" stroke-width="10" stroke-linejoin="round"/>
<polygon points="98,262 104,195 140,165 200,175 260,160 310,184 334,240 344,280 338,335 311,388 264,439 221,462 185,442 139,388 105,330" fill="url(#sk7)" stroke="#b4704a" stroke-width="6" stroke-linejoin="round" stroke-opacity="0.45"/>
<g filter="url(#pb3)" clip-path="url(#fc7)">
<ellipse cx="204" cy="181" rx="64" ry="31" fill="#fef1e4" opacity="0.8"/>
<ellipse cx="156" cy="329" rx="31" ry="25" fill="#fef1e4" opacity="0.72"/>
<ellipse cx="263" cy="326" rx="29" ry="25" fill="#fef1e4" opacity="0.60"/>
<ellipse cx="208" cy="302" rx="10" ry="31" fill="#fef1e4" opacity="0.72"/>
<ellipse cx="209" cy="410" rx="31" ry="12" fill="#fef1e4" opacity="0.56"/>
</g>
<polyline points="95,150 150,85 230,65 310,95 345,160" fill="none" stroke="#b3a88e" stroke-width="22" stroke-linecap="round" stroke-linejoin="round" opacity="0.7"/>
<polyline points="110,200 170,135 260,120 320,160" fill="none" stroke="#9a8f76" stroke-width="18" stroke-linecap="round" stroke-linejoin="round" opacity="0.7"/>
<polyline points="80,200 82,270" fill="none" stroke="#5c5341" stroke-width="16" stroke-linecap="round" stroke-linejoin="round" opacity="0.7"/>
<polyline points="358,200 358,280" fill="none" stroke="#5c5341" stroke-width="16" stroke-linecap="round" stroke-linejoin="round" opacity="0.7"/>
<ellipse cx="158" cy="262" rx="31" ry="13" fill="#b4704a" opacity="0.75"/>
<ellipse cx="261" cy="259" rx="31" ry="13" fill="#b4704a" opacity="0.75"/>
<polyline points="127.1,251.61 186.84,244.4" fill="none" stroke="#7a5c44" stroke-width="8" stroke-linecap="round" stroke-linejoin="round" />
<polyline points="232.16,241.4 291.9,249.64" fill="none" stroke="#7a5c44" stroke-width="8" stroke-linecap="round" stroke-linejoin="round" />
<ellipse cx="158" cy="265" rx="15" ry="6" fill="#3c2a22" />
<ellipse cx="261" cy="262" rx="15" ry="6" fill="#3c2a22" />
<ellipse cx="208" cy="331" rx="25" ry="8" fill="#b4704a" opacity="0.75"/>
<polyline points="153,364 209,371 265,362" fill="none" stroke="#7e402c" stroke-width="9" stroke-linecap="round" stroke-linejoin="round" />
<ellipse cx="209" cy="383" rx="34" ry="6" fill="#df8e6f" opacity="0.6"/>
</g>
</g>
<g transform="translate(469,198) scale(0.10549)">
<ellipse cx="220" cy="365" rx="182" ry="173" fill="url(#oval)" />
<g clip-path="url(#oc8)"><g filter="url(#pb2)">
<polygon points="35,420 110,380 255,545 250,560 35,560" fill="#14161b" />
<polygon points="285,530 320,470 350,435 425,455 425,560 262,560" fill="#14161b" />
<polygon points="108,382 140,392 250,520 300,505 345,445 320,500 280,545 255,552 195,505" fill="#fbfbfd" />
<polygon points="250,535 285,535 290,560 245,560" fill="#1a1c26" />
</g></g>
<ellipse cx="220.0" cy="365" rx="191.5" ry="182" fill="none" stroke="#a9cbee" stroke-width="9" opacity="0.75" filter="url(#pb2)"/>
<ellipse cx="220.0" cy="365" rx="182.5" ry="173" fill="none" stroke="#1a4782" stroke-width="14"/>
<g filter="url(#pb)">
<g clip-path="url(#oc8)"><polygon points="182,389 292,389 279,454 195,454" fill="#a4664a" /></g>
<polygon points="70,260 68,170 100,100 150,55 220,40 292,55 342,100 372,170 384,250 375,310 80,320" fill="#45342a" stroke="#45342a" stroke-width="10" stroke-linejoin="round"/>
<polygon points="92,235 106,165 150,120 220,104 290,118 336,162 358,232 370,285 358,345 321,409 280,455 247,468 211,452 158,403 110,340 88,290" fill="url(#sk8)" stroke="#a4664a" stroke-width="6" stroke-linejoin="round" stroke-opacity="0.45"/>
<g filter="url(#pb3)" clip-path="url(#fc8)">
<ellipse cx="223" cy="148" rx="73" ry="35" fill="#fef1e6" opacity="0.8"/>
<ellipse cx="168" cy="318" rx="35" ry="28" fill="#fef1e6" opacity="0.72"/>
<ellipse cx="290" cy="313" rx="33" ry="28" fill="#fef1e6" opacity="0.60"/>
<ellipse cx="232" cy="284" rx="12" ry="35" fill="#fef1e6" opacity="0.72"/>
<ellipse cx="237" cy="409" rx="35" ry="14" fill="#fef1e6" opacity="0.56"/>
</g>
<polyline points="100,140 160,80 240,62 320,95" fill="none" stroke="#9b8b7d" stroke-width="18" stroke-linecap="round" stroke-linejoin="round" opacity="0.7"/>
<polyline points="345,130 370,200 374,260" fill="none" stroke="#3d312a" stroke-width="16" stroke-linecap="round" stroke-linejoin="round" opacity="0.7"/>
<ellipse cx="76" cy="290" rx="10" ry="34" fill="#c48a68" />
<ellipse cx="378" cy="285" rx="10" ry="34" fill="#9a6046" />
<ellipse cx="170" cy="241" rx="35" ry="15" fill="#a4664a" opacity="0.75"/>
<ellipse cx="288" cy="236" rx="35" ry="15" fill="#a4664a" opacity="0.75"/>
<polyline points="134.6,229.66 203.04000000000002,221.4" fill="none" stroke="#5a4034" stroke-width="8" stroke-linecap="round" stroke-linejoin="round" />
<polyline points="254.95999999999998,216.4 323.4,225.84" fill="none" stroke="#5a4034" stroke-width="8" stroke-linecap="round" stroke-linejoin="round" />
<ellipse cx="170" cy="245" rx="18" ry="6" fill="#33241e" />
<ellipse cx="288" cy="240" rx="18" ry="6" fill="#33241e" />
<ellipse cx="232" cy="317" rx="28" ry="9" fill="#a4664a" opacity="0.75"/>
<polyline points="175,356 237,363 299,354" fill="none" stroke="#783c2c" stroke-width="9" stroke-linecap="round" stroke-linejoin="round" />
<ellipse cx="237" cy="375" rx="37" ry="6" fill="#da8c6e" opacity="0.6"/>
</g>
</g>
<g transform="translate(521,198) scale(0.10549)">
<ellipse cx="228" cy="365" rx="182" ry="173" fill="url(#oval)" />
<g clip-path="url(#oc9)"><g filter="url(#pb2)">
<polygon points="55,450 150,420 215,560 55,560" fill="#13151d" />
<polygon points="320,430 350,385 432,430 432,560 235,560" fill="#13151d" />
<polygon points="125,435 150,420 325,420 352,395 300,548 165,548" fill="#fbfbfd" />
<polygon points="205,530 238,530 246,560 197,560" fill="#35528f" />
</g></g>
<ellipse cx="228.0" cy="365" rx="191.5" ry="182" fill="none" stroke="#a9cbee" stroke-width="9" opacity="0.75" filter="url(#pb2)"/>
<ellipse cx="228.0" cy="365" rx="182.5" ry="173" fill="none" stroke="#1a4782" stroke-width="14"/>
<g filter="url(#pb)">
<g clip-path="url(#oc9)"><polygon points="174,397 284,397 271,462 187,462" fill="#6a371e" /></g>
<polygon points="96,240 94,160 120,100 170,55 230,42 295,55 342,95 366,160 372,240 360,300 105,300" fill="#171311" stroke="#171311" stroke-width="10" stroke-linejoin="round"/>
<polygon points="112,225 125,152 170,118 230,108 295,118 336,152 350,222 356,265 348,325 317,388 271,439 230,459 188,439 138,382 110,320" fill="url(#sk9)" stroke="#6a371e" stroke-width="6" stroke-linejoin="round" stroke-opacity="0.45"/>
<g filter="url(#pb3)" clip-path="url(#fc9)">
<ellipse cx="219" cy="142" rx="73" ry="35" fill="#fae6d4" opacity="0.8"/>
<ellipse cx="164" cy="310" rx="35" ry="28" fill="#fae6d4" opacity="0.72"/>
<ellipse cx="286" cy="308" rx="33" ry="28" fill="#fae6d4" opacity="0.60"/>
<ellipse cx="228" cy="289" rx="12" ry="35" fill="#fae6d4" opacity="0.72"/>
<ellipse cx="229" cy="417" rx="35" ry="14" fill="#fae6d4" opacity="0.56"/>
</g>
<ellipse cx="88" cy="268" rx="11" ry="38" fill="#9a5a34" />
<ellipse cx="378" cy="262" rx="11" ry="38" fill="#8a4c2a" />
<ellipse cx="325" cy="305" rx="22" ry="90" fill="#6a371e" opacity="0.5"/>
<ellipse cx="132" cy="320" rx="14" ry="70" fill="#6a371e" opacity="0.4"/>
<ellipse cx="229" cy="392" rx="34" ry="8" fill="#8a4c2a" opacity="0.5"/>
<ellipse cx="166" cy="233" rx="35" ry="15" fill="#6a371e" opacity="0.75"/>
<ellipse cx="284" cy="231" rx="35" ry="15" fill="#6a371e" opacity="0.75"/>
<polyline points="130.6,221.66 199.04000000000002,213.4" fill="none" stroke="#241610" stroke-width="11" stroke-linecap="round" stroke-linejoin="round" />
<polyline points="250.95999999999998,211.4 319.4,220.84" fill="none" stroke="#241610" stroke-width="11" stroke-linecap="round" stroke-linejoin="round" />
<ellipse cx="166" cy="237" rx="18" ry="6" fill="#1c100c" />
<ellipse cx="284" cy="235" rx="18" ry="6" fill="#1c100c" />
<ellipse cx="228" cy="322" rx="28" ry="9" fill="#6a371e" opacity="0.75"/>
<polyline points="171,364 229,371 287,362" fill="none" stroke="#60291a" stroke-width="9" stroke-linecap="round" stroke-linejoin="round" />
<ellipse cx="229" cy="383" rx="35" ry="6" fill="#c5724a" opacity="0.6"/>
</g>
</g>
</svg></body></html>
